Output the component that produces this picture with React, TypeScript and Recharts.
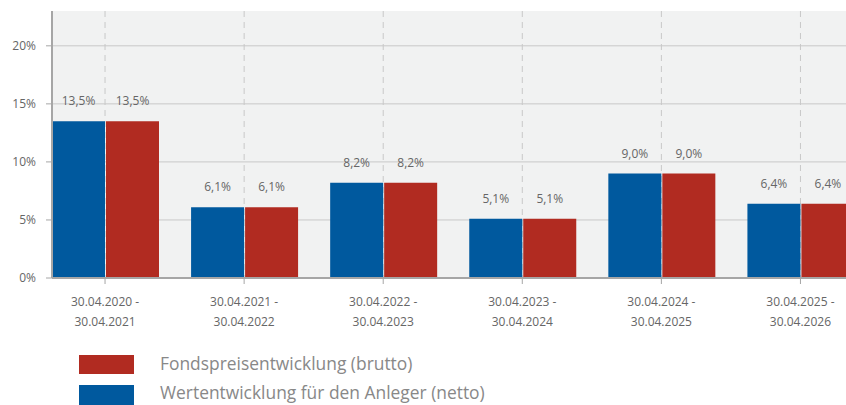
import React from "react";
import { BarChart, Bar, XAxis, YAxis, CartesianGrid, LabelList } from "recharts";

const categories = [
  "30.04.2020 - 30.04.2021",
  "30.04.2021 - 30.04.2022",
  "30.04.2022 - 30.04.2023",
  "30.04.2023 - 30.04.2024",
  "30.04.2024 - 30.04.2025",
  "30.04.2025 - 30.04.2026",
];
const netto = [13.5, 6.1, 8.2, 5.1, 9.0, 6.4];
const brutto = [13.5, 6.1, 8.2, 5.1, 9.0, 6.4];
const yTicks = [0, 5, 10, 15, 20];
const seriesNames = {
  brutto: "Fondspreisentwicklung (brutto)",
  netto: "Wertentwicklung für den Anleger (netto)",
};

const BLUE = "#00599e";
const RED = "#b12b21";
const FONT = "'Open Sans', 'Noto Sans', sans-serif";

const data = categories.map((c, i) => ({ cat: c, netto: netto[i], brutto: brutto[i] }));

const fmt = (v: any) => `${Number(v).toFixed(1).replace(".", ",")}%`;

const XTick = (props: any) => {
  const { x, y, payload } = props;
  const parts = String(payload.value).split(" - ");
  return (
    <g>
      <text x={x} y={y + 20} textAnchor="middle" fill="#666" fontSize={12} fontFamily={FONT}>
        {parts[0] + " -"}
      </text>
      <text x={x} y={y + 40} textAnchor="middle" fill="#666" fontSize={12} fontFamily={FONT}>
        {parts[1]}
      </text>
    </g>
  );
};

export default function App() {
  return (
    <div style={{ position: "absolute", left: 0, top: 0, width: 846, height: 405, overflow: "hidden", background: "#fff" }}>
      <BarChart
        width={870}
        height={405}
        data={data}
        margin={{ top: 11, right: 0, left: 0, bottom: 67 }}
        barCategoryGap={16.5}
        barGap={1}
      >
        <CartesianGrid
          fill="#f1f2f2"
          stroke="#c8c8c8"
          horizontal={true}
          vertical={false}
          horizontalValues={[5, 10, 15, 20]}
        />
        <CartesianGrid
          fill="none"
          stroke="#c8c8c8"
          strokeDasharray="6 5"
          horizontal={false}
          vertical={true}
        />
        <XAxis
          dataKey="cat"
          height={60}
          padding={{ left: -16.5, right: 0 }}
          tick={<XTick />}
          tickLine={{ stroke: "#a6a6a6" }}
          axisLine={{ stroke: "#a6a6a6", strokeWidth: 2 }}
          tickSize={6}
          interval={0}
        />
        <YAxis
          width={52}
          domain={[0, 23]}
          ticks={yTicks}
          allowDataOverflow
          tickFormatter={(v: number) => `${v}%`}
          tick={{ fill: "#666", fontSize: 12, fontFamily: FONT }}
          tickLine={{ stroke: "#a6a6a6" }}
          axisLine={{ stroke: "#a6a6a6", strokeWidth: 2 }}
          tickSize={6}
          tickMargin={10}
        />
        <Bar dataKey="netto" fill={BLUE} isAnimationActive={false}>
          <LabelList dataKey="netto" position="top" offset={16} formatter={fmt} fill="#666" fontSize={12} fontFamily={FONT} />
        </Bar>
        <Bar dataKey="brutto" fill={RED} isAnimationActive={false}>
          <LabelList dataKey="brutto" position="top" offset={16} formatter={fmt} fill="#666" fontSize={12} fontFamily={FONT} />
        </Bar>
      </BarChart>
      <div style={{ position: "absolute", left: 79, top: 355, width: 55, height: 19, background: RED }} />
      <div style={{ position: "absolute", left: 160, top: 352, fontFamily: FONT, fontSize: 17.4, color: "#888", lineHeight: "22px", whiteSpace: "nowrap" }}>
        {seriesNames.brutto}
      </div>
      <div style={{ position: "absolute", left: 79, top: 385, width: 55, height: 20, background: BLUE }} />
      <div style={{ position: "absolute", left: 160, top: 381, fontFamily: FONT, fontSize: 17.4, color: "#888", lineHeight: "22px", whiteSpace: "nowrap" }}>
        {seriesNames.netto}
      </div>
    </div>
  );
}
